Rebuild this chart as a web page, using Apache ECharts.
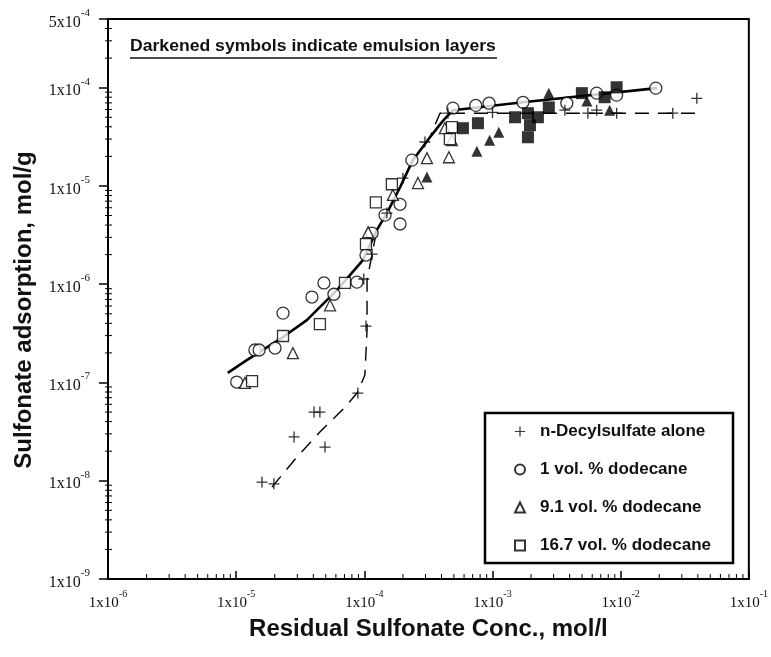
<!DOCTYPE html>
<html><head><meta charset="utf-8">
<script src="https://cdn.jsdelivr.net/npm/echarts@6/dist/echarts.min.js"></script>
<style>html,body{margin:0;padding:0;background:#fff}#c{width:771px;height:657px}</style>
</head><body><div id="c"></div>
<script>
// ---- data ----
const decylAloneX = [1.59e-5, 1.97e-5, 2.83e-5, 4.93e-5, 4.05e-5, 4.5e-5, 8.9e-5, 1.03e-4, 9.9e-5, 1.15e-4, 1.5e-4, 2.0e-4, 2.97e-4, 4.49e-4, 1.0e-3, 3.67e-3, 5.55e-3, 6.5e-3, 9.3e-3, 2.55e-2, 3.93e-2];
const decylAloneY = [9.7e-9, 9.3e-9, 2.79e-8, 2.2e-8, 5.0e-8, 5.0e-8, 7.8e-8, 3.75e-7, 1.13e-6, 2.02e-6, 5.3e-6, 1.2e-5, 2.8e-5, 5.5e-5, 5.6e-5, 5.9e-5, 5.5e-5, 5.9e-5, 5.5e-5, 5.5e-5, 7.8e-5];

const dodec1X = [1.01e-5, 1.40e-5, 1.51e-5, 2.01e-5, 2.32e-5, 3.9e-5, 4.84e-5, 5.79e-5, 8.75e-5, 1.03e-4, 1.15e-4, 1.45e-4, 1.90e-4, 1.90e-4, 2.35e-4, 4.91e-4, 7.4e-4, 9.4e-4, 1.73e-3, 3.8e-3, 6.5e-3, 9.3e-3, 1.88e-2];
const dodec1Y = [1.01e-7, 2.14e-7, 2.14e-7, 2.24e-7, 5.08e-7, 7.4e-7, 1.03e-6, 7.9e-7, 1.05e-6, 1.98e-6, 3.31e-6, 5.05e-6, 6.5e-6, 4.1e-6, 1.83e-5, 6.2e-5, 6.6e-5, 6.95e-5, 7.1e-5, 6.95e-5, 8.8e-5, 8.4e-5, 9.9e-5];

const dodec91X = [1.17e-5, 2.77e-5, 5.4e-5, 1.07e-4, 1.67e-4, 2.62e-4, 3.08e-4, 4.57e-4, 4.82e-4, 4.25e-4];
const dodec91Y = [9.9e-8, 1.99e-7, 6.1e-7, 3.39e-6, 8.1e-6, 1.07e-5, 1.92e-5, 1.96e-5, 2.92e-5, 3.87e-5];
const dodec91EmulsionX = [3.08e-4, 7.55e-4, 9.5e-4, 1.12e-3, 2.75e-3, 5.45e-3, 8.2e-3];
const dodec91EmulsionY = [1.23e-5, 2.26e-5, 2.92e-5, 3.52e-5, 8.8e-5, 7.3e-5, 5.9e-5];

const dodec167X = [1.33e-5, 2.32e-5, 4.5e-5, 7.06e-5, 1.03e-4, 1.23e-4, 1.64e-4, 4.65e-4, 4.82e-4];
const dodec167Y = [1.03e-7, 2.97e-7, 3.93e-7, 1.03e-6, 2.56e-6, 6.8e-6, 1.04e-5, 2.99e-5, 3.96e-5];
const dodec167EmulsionX = [5.88e-4, 7.7e-4, 1.50e-3, 1.89e-3, 1.96e-3, 1.89e-3, 2.26e-3, 2.75e-3, 4.98e-3, 7.5e-3, 9.3e-3];
const dodec167EmulsionY = [3.87e-5, 4.35e-5, 5.0e-5, 5.5e-5, 4.15e-5, 3.13e-5, 5.0e-5, 6.3e-5, 8.8e-5, 8.0e-5, 1.01e-4];

const curveOilX = [8.6e-6, 1.21e-5, 2.32e-5, 3.56e-5, 6.11e-5, 9.75e-5, 1.25e-4, 1.50e-4, 1.90e-4, 2.39e-4, 3.25e-4, 4.1e-4, 4.91e-4, 1.73e-3, 1.92e-2];
const curveOilY = [1.25e-7, 1.69e-7, 2.9e-7, 4.31e-7, 8.7e-7, 1.76e-6, 3.55e-6, 5.3e-6, 9.7e-6, 1.83e-5, 3.13e-5, 4.6e-5, 5.9e-5, 7.1e-5, 9.9e-5];

const curveAloneX = [1.90e-5, 2.93e-5, 4.5e-5, 7.06e-5, 8.9e-5, 1.01e-4, 1.05e-4, 1.05e-4, 1.25e-4, 1.50e-4, 1.90e-4, 2.39e-4, 3.25e-4, 3.89e-4, 3.93e-2];
const curveAloneY = [8.6e-9, 1.70e-8, 3.13e-8, 5.6e-8, 8.0e-8, 1.19e-7, 3.4e-7, 1.1e-6, 3.55e-6, 5.3e-6, 9.7e-6, 1.83e-5, 3.13e-5, 5.5e-5, 5.5e-5];

const legendNames = ['n-Decylsulfate alone', '1 vol. % dodecane', '9.1 vol. % dodecane', '16.7 vol. % dodecane'];
const xMin = 1e-6, xMax = 1e-1, yMin = 1e-9, yMax = 5e-4;
const minorMults = [2, 3, 4, 5, 6, 7, 8, 9];
const xDecades = [-6, -5, -4, -3, -2];
const yDecades = [-9, -8, -7, -6, -5, -4];

// ---- helpers ----
const zip = (xs, ys) => xs.map((x, i) => [x, ys[i]]);
function sciLabel(v) {
  const e = Math.floor(Math.log10(v) + 1e-9);
  const m = Math.round(v / Math.pow(10, e));
  return '{m|' + m + 'x10}{e|' + e + '}';
}
const xRich = {
  m: { fontFamily: 'Liberation Serif', fontSize: 15, color: '#111', lineHeight: 22, verticalAlign: 'bottom' },
  e: { fontFamily: 'Liberation Serif', fontSize: 10, color: '#111', lineHeight: 22, verticalAlign: 'top' }
};
const yRich = {
  m: { fontFamily: 'Liberation Serif', fontSize: 16, color: '#111', lineHeight: 23, verticalAlign: 'bottom' },
  e: { fontFamily: 'Liberation Serif', fontSize: 11, color: '#111', lineHeight: 23, verticalAlign: 'top' }
};
const xMinorTicks = [];
xDecades.forEach(d => minorMults.forEach(k => xMinorTicks.push([k * Math.pow(10, d), yMin])));
const yMinorTicks = [];
yDecades.forEach(d => minorMults.forEach(k => { const v = k * Math.pow(10, d); if (v < yMax * 0.999) yMinorTicks.push([xMin, v]); }));

const PLUS = 'path://M4.4,0H5.6V4.4H10V5.6H5.6V10H4.4V5.6H0V4.4H4.4Z';
const hollow = { color: '#fff', borderColor: '#000', borderWidth: 1.3 };

const chart = echarts.init(document.getElementById('c'), null, { renderer: 'canvas' });
chart.setOption({
  backgroundColor: '#fff',
  animation: false,
  grid: { left: 108, right: 22, top: 19, bottom: 78, show: true, borderColor: '#000', borderWidth: 2, backgroundColor: 'transparent' },
  xAxis: {
    type: 'log', logBase: 10, min: xMin, max: xMax, splitNumber: 5,
    name: 'Residual Sulfonate Conc., mol/l', nameLocation: 'middle', nameGap: 38,
    nameTextStyle: { fontFamily: 'Liberation Sans', fontWeight: 'bold', fontSize: 24, color: '#111' },
    axisLine: { lineStyle: { color: '#000', width: 2 } },
    axisTick: { inside: true, length: 8, lineStyle: { color: '#000', width: 1.5 } },
    axisLabel: { margin: 10, formatter: sciLabel, rich: xRich },
    splitLine: { show: false }
  },
  yAxis: {
    type: 'log', logBase: 10, min: yMin, max: yMax, splitNumber: 6,
    name: 'Sulfonate adsorption, mol/g', nameLocation: 'middle', nameGap: 72,
    nameTextStyle: { fontFamily: 'Liberation Sans', fontWeight: 'bold', fontSize: 24, color: '#111', padding: [0, 22, 0, 0] },
    axisLine: { lineStyle: { color: '#000', width: 2 } },
    axisTick: { inside: false, length: 9, lineStyle: { color: '#000', width: 1.5 } },
    axisLabel: { margin: 18, formatter: sciLabel, rich: yRich },
    splitLine: { show: false }
  },
  legend: {
    data: legendNames.map(n => ({ name: n })),
    orient: 'vertical', left: 485, top: 413,
    backgroundColor: '#fff', borderColor: '#000', borderWidth: 2.5,
    padding: [10, 22, 9, 29], itemGap: 21, itemWidth: 10, itemHeight: 10,
    textStyle: { fontFamily: 'Liberation Sans', fontWeight: 'bold', fontSize: 17, color: '#111', padding: [0, 0, 0, 10] }
  },
  graphic: [
    { type: 'text', left: 130, top: 39, scaleX: 1.1, style: { text: 'Darkened symbols indicate emulsion layers', fontFamily: 'Liberation Sans', fontWeight: 'bold', fontSize: 16, fill: '#111' } },
    { type: 'line', shape: { x1: 130, y1: 58, x2: 497, y2: 58 }, style: { stroke: '#111', lineWidth: 1.3 } }
  ],
  series: [
    { type: 'line', name: 'curveOil', data: zip(curveOilX, curveOilY), showSymbol: false, smooth: false, lineStyle: { color: '#000', width: 2.6, join: 'round' }, z: 3, silent: true },
    { type: 'line', name: 'curveAlone', data: zip(curveAloneX, curveAloneY), showSymbol: false, smooth: false, lineStyle: { color: '#000', width: 1.4, type: [14, 9] }, z: 3, silent: true },
    { type: 'scatter', name: legendNames[0], data: zip(decylAloneX, decylAloneY), symbol: PLUS, symbolSize: 11, itemStyle: { color: '#000' }, z: 5 },
    { type: 'scatter', name: legendNames[1], data: zip(dodec1X, dodec1Y), symbol: 'circle', symbolSize: 12, itemStyle: hollow, z: 4 },
    { type: 'scatter', name: legendNames[2], data: zip(dodec91X, dodec91Y), symbol: 'triangle', symbolSize: 11, itemStyle: hollow, z: 4 },
    { type: 'scatter', name: legendNames[2] + ' emulsion', data: zip(dodec91EmulsionX, dodec91EmulsionY), symbol: 'triangle', symbolSize: 11, itemStyle: { color: '#000' }, z: 4 },
    { type: 'scatter', name: legendNames[3], data: zip(dodec167X, dodec167Y), symbol: 'rect', symbolSize: 11, itemStyle: hollow, z: 4 },
    { type: 'scatter', name: legendNames[3] + ' emulsion', data: zip(dodec167EmulsionX, dodec167EmulsionY), symbol: 'rect', symbolSize: 12, itemStyle: { color: '#000' }, z: 4 },
    { type: 'custom', name: 'xMinor', data: xMinorTicks, silent: true, z: 6, renderItem: (p, api) => {
        const c = api.coord([api.value(0), api.value(1)]);
        return { type: 'line', shape: { x1: c[0], y1: c[1], x2: c[0], y2: c[1] - 5 }, style: { stroke: '#000', lineWidth: 1 } };
      } },
    { type: 'custom', name: 'yMinor', data: yMinorTicks, silent: true, z: 6, renderItem: (p, api) => {
        const c = api.coord([api.value(0), api.value(1)]);
        return { type: 'line', shape: { x1: c[0] - 3, y1: c[1], x2: c[0] + 4, y2: c[1] }, style: { stroke: '#000', lineWidth: 1 } };
      } }
  ]
});
</script></body></html>
